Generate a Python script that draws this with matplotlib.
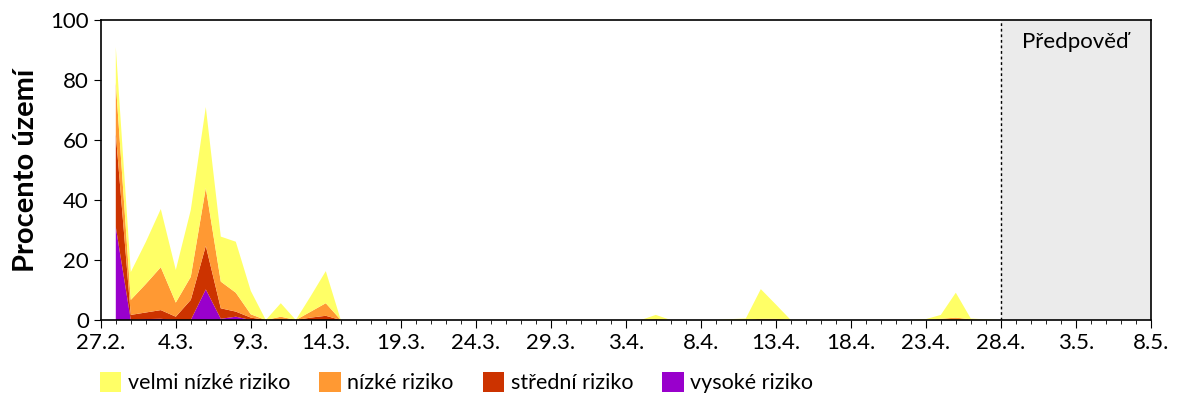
import matplotlib
matplotlib.use("Agg")
import matplotlib.pyplot as plt
import numpy as np
from matplotlib.patches import Patch

plt.rcParams['font.family'] = ['Lato', 'DejaVu Sans']

# den 1 = 28.2., den 70 = 8.5.
dny = np.arange(1, 71)

# velmi nizke riziko (prirustek nad nizkym)
velmi_nizke = [12.0, 9.3, 14.0, 19.4, 10.9, 22.3, 27.0, 15.0, 17.0, 7.8,
               0.0, 4.5, 0.0, 5.2, 10.7, 0.0, 0.0, 0.0, 0.0, 0.0,
               0.0, 0.0, 0.0, 0.0, 0.0, 0.0, 0.0, 0.0, 0.0, 0.0,
               0.0, 0.0, 0.0, 0.0, 0.0, 0.0, 1.4, 0.0, 0.0, 0.0,
               0.0, 0.3, 0.5, 9.9, 4.8, 0.0, 0.0, 0.0, 0.0, 0.0,
               0.0, 0.0, 0.0, 0.0, 0.3, 1.3, 8.3, 0.3, 0.2, 0.0,
               0.0, 0.0, 0.0, 0.0, 0.0, 0.0, 0.0, 0.0, 0.0, 0.0]
nizke = [17.0, 5.0, 9.5, 14.3, 4.7, 7.7, 19.3, 8.9, 6.3, 1.1,
         0.0, 0.8, 0.0, 2.0, 4.2, 0.0, 0.0, 0.0, 0.0, 0.0,
         0.0, 0.0, 0.0, 0.0, 0.0, 0.0, 0.0, 0.0, 0.0, 0.0,
         0.0, 0.0, 0.0, 0.0, 0.0, 0.0, 0.3, 0.0, 0.0, 0.0,
         0.0, 0.0, 0.0, 0.4, 0.4, 0.0, 0.0, 0.0, 0.0, 0.0,
         0.0, 0.0, 0.0, 0.0, 0.0, 0.4, 0.8, 0.2, 0.0, 0.0,
         0.0, 0.0, 0.0, 0.0, 0.0, 0.0, 0.0, 0.0, 0.0, 0.0]
stredni = [31.0, 1.7, 2.2, 2.9, 1.1, 6.7, 14.5, 3.5, 1.7, 0.8,
           0.0, 0.3, 0.0, 0.8, 1.4, 0.0, 0.0, 0.0, 0.0, 0.0,
           0.0, 0.0, 0.0, 0.0, 0.0, 0.0, 0.0, 0.0, 0.0, 0.0,
           0.0, 0.0, 0.0, 0.0, 0.0, 0.0, 0.0, 0.0, 0.0, 0.0,
           0.0, 0.0, 0.0, 0.0, 0.0, 0.0, 0.0, 0.0, 0.0, 0.0,
           0.0, 0.0, 0.0, 0.0, 0.0, 0.0, 0.0, 0.0, 0.0, 0.0,
           0.0, 0.0, 0.0, 0.0, 0.0, 0.0, 0.0, 0.0, 0.0, 0.0]
vysoke = [31.0, 0.0, 0.3, 0.4, 0.0, 0.0, 10.2, 0.4, 1.1, 0.0,
          0.0, 0.0, 0.0, 0.0, 0.0, 0.0, 0.0, 0.0, 0.0, 0.0,
          0.0, 0.0, 0.0, 0.0, 0.0, 0.0, 0.0, 0.0, 0.0, 0.0,
          0.0, 0.0, 0.0, 0.0, 0.0, 0.0, 0.0, 0.0, 0.0, 0.0,
          0.0, 0.0, 0.0, 0.0, 0.0, 0.0, 0.0, 0.0, 0.0, 0.0,
          0.0, 0.0, 0.0, 0.0, 0.0, 0.0, 0.0, 0.0, 0.0, 0.0,
          0.0, 0.0, 0.0, 0.0, 0.0, 0.0, 0.0, 0.0, 0.0, 0.0]

popisky = ["27.2.", "4.3.", "9.3.", "14.3.", "19.3.", "24.3.", "29.3.", "3.4.",
           "8.4.", "13.4.", "18.4.", "23.4.", "28.4.", "3.5.", "8.5."]
nazvy = ["velmi nízké riziko", "nízké riziko", "střední riziko", "vysoké riziko"]
barvy = ["#FFFF66", "#FF9933", "#CC3300", "#9900CC"]
zacatek_predpovedi = 60

fig = plt.figure(figsize=(12, 4), dpi=100)
ax = fig.add_axes([0.084, 0.2, 0.875, 0.75])

ax.axvspan(zacatek_predpovedi, 70, color="#EBEBEB", zorder=0)
ax.axvline(zacatek_predpovedi, color="black", lw=1, ls=(0, (2, 2)), zorder=3)
ax.text((zacatek_predpovedi + 70) / 2, 92.7, "Předpověď", ha="center", va="center", fontsize=16)

ax.stackplot(dny, vysoke, stredni, nizke, velmi_nizke,
             colors=barvy[::-1], linewidth=0, zorder=2)

ax.set_xlim(0, 70)
ax.set_ylim(0, 100)
ax.set_xticks(np.arange(0, 71, 5))
ax.set_xticklabels(popisky, fontsize=16)
ax.set_xticks(np.arange(0, 71, 1), minor=True)
ax.set_yticks(np.arange(0, 101, 20))
ax.tick_params(axis="y", labelsize=16, length=5, direction="out")
ax.tick_params(axis="x", which="major", length=6, direction="out")
ax.tick_params(axis="x", which="minor", length=3, direction="out")
ax.set_ylabel("Procento území", fontsize=21, fontweight="bold", labelpad=8)
for s in ax.spines.values():
    s.set_linewidth(1.2)

handles = [Patch(facecolor=c, edgecolor="none") for c in barvy]
fig.legend(handles, nazvy, loc="center left", bbox_to_anchor=(0.0833, 0.043), ncol=4,
           frameon=False, fontsize=15.5, handlelength=1.0, handleheight=1.0,
           handletextpad=0.3, columnspacing=1.35, borderpad=0, borderaxespad=0)

fig.savefig("out.png", dpi=100)
